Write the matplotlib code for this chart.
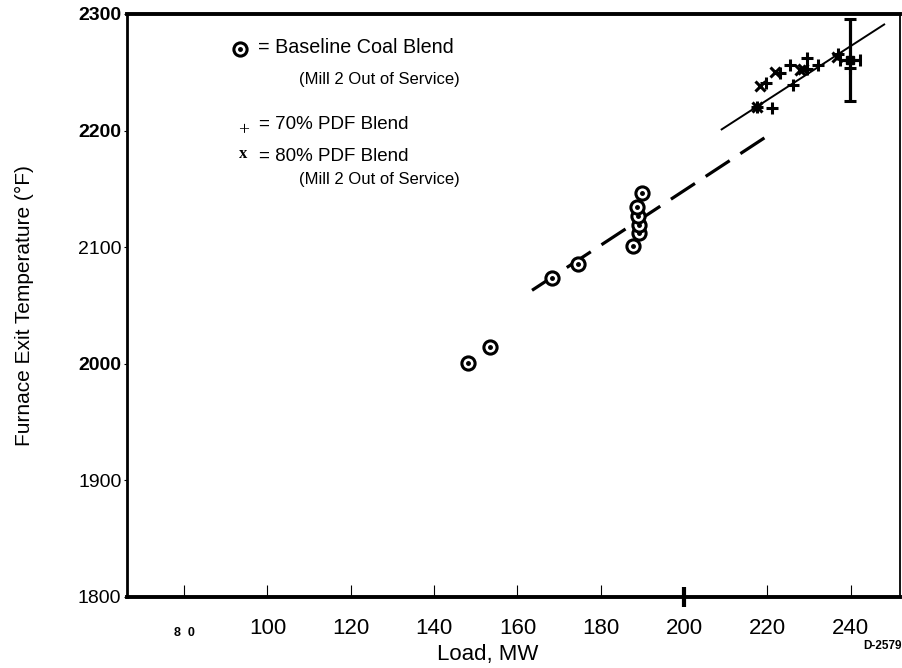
import matplotlib
matplotlib.use("Agg")
import matplotlib.pyplot as plt
from matplotlib.transforms import blended_transform_factory

plt.rcParams["font.family"] = ["Liberation Sans", "DejaVu Sans"]

# Baseline coal blend, mill 2 out of service
coal_load = [148.1, 153.4, 168.2, 174.5, 187.7, 189.1, 189.1, 188.9, 188.6, 189.8]
coal_temp = [2000.5, 2014, 2073.5, 2085.5, 2101, 2112, 2119, 2127, 2134.5, 2146.5]

# 70% PDF blend
pdf70_load = [217.4, 219.6, 221.2, 222.9, 225.3, 226.0, 229.4, 229.4, 232.0, 236.8, 239.7]
pdf70_temp = [2220, 2241, 2219.5, 2249, 2256, 2239, 2262, 2253, 2256, 2266, 2254]

# 80% PDF blend, mill 2 out of service
pdf80_load = [217.4, 218.1, 221.7, 227.7, 228.6, 236.6]
pdf80_temp = [2220, 2238, 2250, 2252, 2253, 2263]

# mean point with uncertainty bars
mean_load = [239.7]
mean_temp = [2260.5]
mean_load_err = [2.4]
mean_temp_err = [35.5]

# fitted trend lines (end points)
coal_fit_load = [163.5, 219.8]
coal_fit_temp = [2063, 2195]
pdf_fit_load = [209.0, 248.0]
pdf_fit_temp = [2201, 2291]

x_ticks = [80, 100, 120, 140, 160, 180, 200, 220, 240]
x_tick_labels = ["", "100", "120", "140", "160", "180", "200", "220", "240"]
y_ticks = [1800, 1900, 2000, 2100, 2200, 2300]
y_bold_labels = [2000, 2200, 2300]

fig = plt.figure(figsize=(9.03, 6.68), dpi=100)
ax = fig.add_axes([0.1406, 0.1063, 0.8561, 0.8728])

# trend lines
ax.plot(coal_fit_load, coal_fit_temp, color="black", lw=2.3,
        linestyle=(0, (9, 4)), solid_capstyle="butt")
ax.plot(pdf_fit_load, pdf_fit_temp, color="black", lw=1.4)

# data points
ax.plot(coal_load, coal_temp, linestyle="none", marker="o", markersize=9.5,
        markerfacecolor="white", markeredgecolor="black", markeredgewidth=2.2)
ax.plot(coal_load, coal_temp, linestyle="none", marker="o", markersize=2.5,
        color="black")
ax.plot(pdf70_load, pdf70_temp, linestyle="none", marker="+", markersize=9,
        markeredgewidth=2.2, color="black")
ax.plot(pdf80_load, pdf80_temp, linestyle="none", marker="x", markersize=7,
        markeredgewidth=2.2, color="black")
ax.errorbar(mean_load, mean_temp, xerr=mean_load_err, yerr=mean_temp_err,
            fmt="s", markersize=6, color="black", elinewidth=2.3,
            capsize=4, capthick=2.2)

ax.set_xlim(66.3, 251.8)
ax.set_ylim(1800, 2300)

for side, w in (("left", 2.0), ("bottom", 2.8), ("top", 2.8), ("right", 1.3)):
    ax.spines[side].set_linewidth(w)

ax.set_xticks(x_ticks)
ax.set_xticklabels(x_tick_labels, fontsize=16)
ax.tick_params(axis="x", direction="in", length=9, width=0.8, pad=15)
ax.set_yticks(y_ticks)
ax.set_yticklabels([str(v) for v in y_ticks], fontsize=14)
ax.tick_params(axis="y", direction="out", length=2, width=0.8, pad=2)
for lab, v in zip(ax.get_yticklabels(), y_ticks):
    if v in y_bold_labels:
        lab.set_fontweight("bold")

# heavier tick at 200 MW
t200 = ax.xaxis.get_major_ticks()[x_ticks.index(200)]
t200.tick1line.set_marker("|")
t200.tick1line.set_markersize(14)
t200.tick1line.set_markeredgewidth(3)

# odd "8 0" label at the first tick
xt = blended_transform_factory(ax.transData, ax.transAxes)
ax.text(80, -0.062, "8  0", transform=xt, ha="center", va="center",
        fontsize=9, fontweight="bold")

ax.set_xlabel("Load, MW", fontsize=16, va="center")
ax.xaxis.set_label_coords(0.467, -0.098)
ax.set_ylabel("Furnace Exit Temperature (°F)", fontsize=15, va="center")
ax.yaxis.set_label_coords(-0.133, 0.5)

# hand-drawn key in the upper left
ax.plot([0.146], [0.940], transform=ax.transAxes, marker="o", markersize=9.5,
        markerfacecolor="white", markeredgecolor="black", markeredgewidth=2.2)
ax.plot([0.146], [0.940], transform=ax.transAxes, marker="o", markersize=2.5,
        color="black")
ax.text(0.1695, 0.942, "= Baseline Coal Blend", transform=ax.transAxes,
        va="center", ha="left", fontsize=14.2)
ax.text(0.2225, 0.8868, "(Mill 2 Out of Service)", transform=ax.transAxes,
        va="center", ha="left", fontsize=12)
ax.text(0.1514, 0.800, "+", transform=ax.transAxes, va="center", ha="center",
        fontsize=14, family=["Liberation Serif", "DejaVu Serif"])
ax.text(0.1708, 0.8096, "= 70% PDF Blend", transform=ax.transAxes,
        va="center", ha="left", fontsize=13.5)
ax.text(0.150, 0.760, "x", transform=ax.transAxes, va="center", ha="center",
        fontsize=12, fontweight="bold",
        family=["Liberation Serif", "DejaVu Serif"])
ax.text(0.1708, 0.7547, "= 80% PDF Blend", transform=ax.transAxes,
        va="center", ha="left", fontsize=13.5)
ax.text(0.2225, 0.7153, "(Mill 2 Out of Service)", transform=ax.transAxes,
        va="center", ha="left", fontsize=12)

fig.text(0.999, 0.033, "D-2579", ha="right", va="center", fontsize=8.5,
         fontweight="bold")

fig.savefig("out.png", dpi=100)
